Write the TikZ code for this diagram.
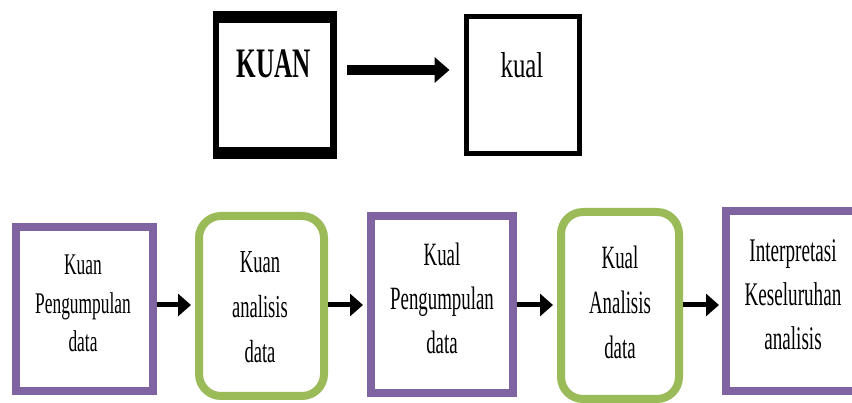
\documentclass[tikz,border=0pt]{standalone}
\usepackage{fontspec}
\setmainfont{Liberation Serif}
\newfontfamily\narrowserif[FakeStretch=0.58]{Liberation Serif}
\newfontfamily\headserif[FakeStretch=0.6]{Liberation Serif}
\newfontfamily\lowserif[FakeStretch=0.69]{Liberation Serif}
\usetikzlibrary{arrows.meta}
\definecolor{boxpurple}{HTML}{8064A2}
\definecolor{boxgreen}{HTML}{9BBB59}

\begin{document}
\begin{tikzpicture}[x=1pt,y=-1pt,
  purplebox/.style={draw=boxpurple,line width=8pt,inner sep=0pt,rectangle},
  greenbox/.style={draw=boxgreen,line width=8pt,rounded corners=22pt,inner sep=0pt,rectangle},
  boxtext/.style={align=center,inner sep=0pt},
  flow/.style={line width=5pt,-{Triangle[length=13pt,width=22pt]},shorten >=4pt},
  bigflow/.style={line width=10pt,-{Triangle[length=15pt,width=25pt]}}
]
\useasboundingbox (0,0) rectangle (852,403);
\clip (0,0) rectangle (852,403);

% --- upper pair: KUAN -> kual ---
\node[fill=black,inner sep=0pt,minimum width=124pt,minimum height=148pt] (kuan) at (275,85) {};
\fill[white] (219,23) rectangle (330,147);
\node[boxtext,font={\headserif\bfseries\fontsize{42}{48}\selectfont}] (kuantext) at (274,63.5) {KUAN};

\node[draw,line width=5pt,inner sep=0pt,minimum width=113pt,minimum height=137pt] (kual) at (523,85) {};
\node[boxtext,font={\lowserif\fontsize{36}{42}\selectfont}] (kualtext) at (522,65) {kual};

\coordinate (toprow) at (0,70);
\draw[bigflow,shorten <=10pt,shorten >=14.5pt] (kuan.east |- toprow) -- (kual.west |- toprow);

% --- lower row: five stages ---
\node[purplebox,minimum width=137pt,minimum height=164pt] (b1) at (84.5,309) {};
\node[greenbox,minimum width=125pt,minimum height=180pt] (b2) at (261.5,306) {};
\node[purplebox,minimum width=142pt,minimum height=177pt] (b3) at (442,304.5) {};
\node[greenbox,minimum width=118pt,minimum height=187pt] (b4) at (620,305.5) {};
\node[purplebox,minimum width=150pt,minimum height=180pt] (b5) at (801,301) {};

\node[boxtext,font={\narrowserif\fontsize{30}{38.5}\selectfont}] (t1) at (83,303.5) {Kuan\\Pengumpulan\\data};
\node[boxtext,font={\narrowserif\fontsize{32}{45}\selectfont}] (t2) at (260,307.5) {Kuan\\analisis\\data};
\node[boxtext,font={\narrowserif\fontsize{32.5}{44}\selectfont}] (t3) at (442,298.5) {Kual\\Pengumpulan\\data};
\node[boxtext,font={\narrowserif\fontsize{32.5}{45}\selectfont}] (t4) at (620,302.5) {Kual\\Analisis\\data};
\node[boxtext,font={\narrowserif\fontsize{33}{44}\selectfont}] (t5) at (793,295) {Interpretasi\\Keseluruhan\\analisis};

\coordinate (row) at (0,305);
\draw[flow] (b1.east |- row) -- (b2.west |- row);
\draw[flow] (b2.east |- row) -- (b3.west |- row);
\draw[flow] (b3.east |- row) -- (b4.west |- row);
\draw[flow,shorten >=3pt] (b4.east |- row) -- (b5.west |- row);
\end{tikzpicture}
\end{document}
